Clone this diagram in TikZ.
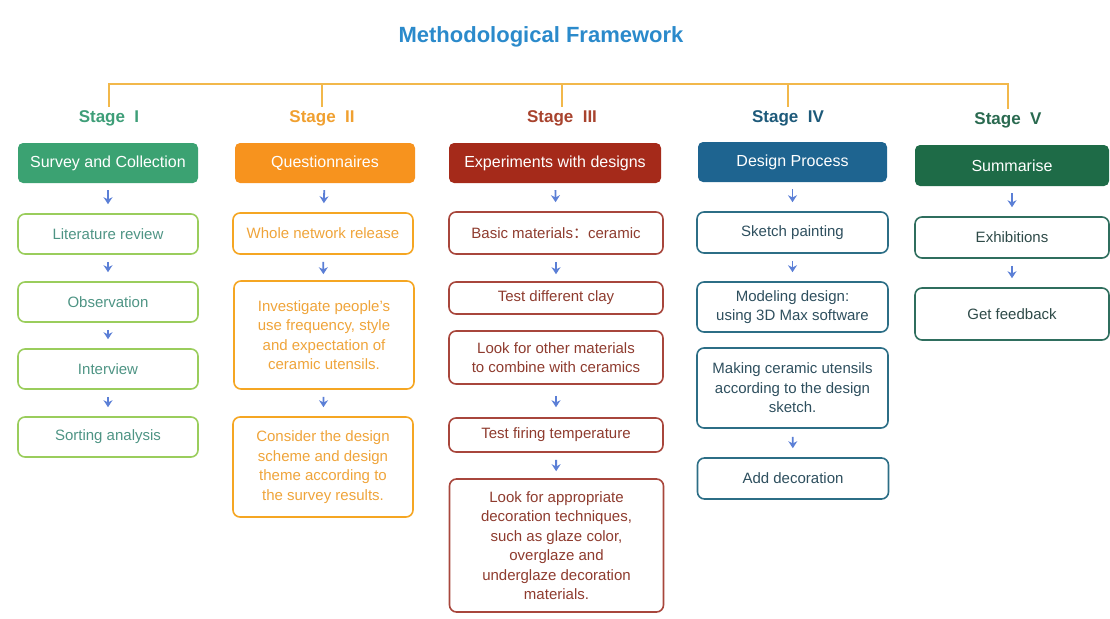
\documentclass[tikz,border=0pt]{standalone}
\usepackage{fontspec}
\setmainfont{Liberation Sans}
\newfontfamily\cjk{Noto Sans CJK SC}
\usetikzlibrary{arrows.meta}

\definecolor{titleblue}{HTML}{2B8ACB}
\definecolor{barorange}{HTML}{F2B84B}
\definecolor{arrowblue}{HTML}{5B7FD6}
\definecolor{onehead}{HTML}{3BA272}
\definecolor{onestage}{HTML}{3E9E78}
\definecolor{oneline}{HTML}{9ACD5C}
\definecolor{onetext}{HTML}{4E9484}
\definecolor{twohead}{HTML}{F7931E}
\definecolor{twostage}{HTML}{F0A030}
\definecolor{twoline}{HTML}{F5A623}
\definecolor{twotext}{HTML}{EFA43A}
\definecolor{threehead}{HTML}{A52A1A}
\definecolor{threestage}{HTML}{A8432E}
\definecolor{threeline}{HTML}{A8463C}
\definecolor{threetext}{HTML}{8E3B2E}
\definecolor{fourhead}{HTML}{1E6490}
\definecolor{fourstage}{HTML}{1E5A7A}
\definecolor{fourline}{HTML}{2C6E86}
\definecolor{fourtext}{HTML}{2E4F5E}
\definecolor{fivehead}{HTML}{1E6B47}
\definecolor{fivestage}{HTML}{2A6A50}
\definecolor{fiveline}{HTML}{2F6E5E}
\definecolor{fivetext}{HTML}{2E4A48}

\tikzset{
  head/.style={rounded corners=5pt, text=white, minimum height=40pt, inner sep=2pt,
    font=\fontsize{16}{19}\selectfont},
  box/.style={draw, rounded corners=7pt, line width=1.6pt, align=center, inner sep=2pt,
    font=\fontsize{15}{19.5}\selectfont},
  stage/.style={font=\bfseries\fontsize{17}{20}\selectfont},
  flow/.style={-{Stealth[length=7pt,width=9pt]}, line width=1.8pt, draw=arrowblue,
    shorten <=7pt, shorten >=9pt},
  bracket/.style={draw=barorange, line width=1.3pt},
  one/.style={box, draw=oneline, text=onetext, minimum width=180pt},
  two/.style={box, draw=twoline, text=twotext, minimum width=180pt},
  three/.style={box, draw=threeline, text=threetext, minimum width=214pt},
  four/.style={box, draw=fourline, text=fourtext, minimum width=191pt},
  five/.style={box, draw=fiveline, text=fivetext, minimum width=194pt},
}

\begin{document}
\begin{tikzpicture}[x=1pt, y=-1pt]
  \useasboundingbox (0,0) rectangle (1110,618);

  \node[font=\bfseries\fontsize{22}{26}\selectfont, text=titleblue] (title) at (541,37) {Methodological Framework};

  % stage titles and the bracket above them
  \coordinate (bar) at (0,84);
  \node[stage, text=onestage]   (s1) at (109,118)  {Stage\ \ I};
  \node[stage, text=twostage]   (s2) at (322,118)  {Stage\ \ II};
  \node[stage, text=threestage] (s3) at (562,118)  {Stage\ \ III};
  \node[stage, text=fourstage]  (s4) at (788,118)  {Stage\ \ IV};
  \node[stage, text=fivestage]  (s5) at (1008,120) {Stage\ \ V};
  \draw[bracket] (s1.north) -- (s1.north |- bar) -- (s5.north |- bar) -- (s5.north);
  \foreach \s in {s2,s3,s4}
    \draw[bracket] (\s.north) -- (\s.north |- bar);

  % Stage I
  \node[head, fill=onehead, minimum width=180pt] (h1) at (108,163) {Survey and Collection};
  \node[one, minimum height=40pt] (lit)  at (108,234) {Literature review};
  \node[one, minimum height=40pt] (obs)  at (108,302) {Observation};
  \node[one, minimum height=40pt] (intv) at (108,369) {Interview};
  \node[one, minimum height=40pt] (sort) at (108,437) {Sorting analysis};
  \draw[flow] (h1) -- (lit);
  \draw[flow] (lit) -- (obs);
  \draw[flow] (obs) -- (intv);
  \draw[flow] (intv) -- (sort);

  % Stage II
  \node[head, fill=twohead, minimum width=180pt] (h2) at (325,163) {Questionnaires};
  \node[two, minimum height=41pt]  (release) at (323,233.5) {Whole network release};
  \node[two, minimum height=108pt] (invest)  at (324,335) {Investigate people's\\use frequency, style\\and expectation of\\ceramic utensils.};
  \node[two, minimum height=100pt] (scheme)  at (323,467) {Consider the design\\scheme and design\\theme according to\\the survey results.};
  \draw[flow] (h2) -- (release);
  \draw[flow, shorten >=6pt] (release) -- (invest);
  \draw[flow] (invest) -- (scheme);

  % Stage III
  \node[head, fill=threehead, minimum width=212pt] (h3) at (555,163) {Experiments with designs};
  \node[three, minimum height=42pt]  (basic)   at (556,233) {Basic materials{\cjk ：}ceramic};
  \node[three, minimum height=32pt]  (clay)    at (556,298) {Test different clay};
  \node[three, minimum height=53pt]  (combine) at (556,357.5) {Look for other materials\\to combine with ceramics};
  \node[three, minimum height=34pt]  (firing)  at (556,435) {Test firing temperature};
  \node[three, minimum height=133pt] (glaze)   at (556.5,545.5) {Look for appropriate\\decoration techniques,\\such as glaze color,\\overglaze and\\underglaze decoration\\materials.};
  \draw[flow] (h3) -- (basic);
  \draw[flow, shorten >=7pt] (basic) -- (clay);
  \draw[flow, shorten <=11pt, shorten >=10pt] (combine) -- (firing);
  \draw[flow, shorten >=7pt] (firing) -- (glaze);

  % Stage IV
  \node[head, fill=fourhead, minimum width=189pt] (h4) at (792.5,162) {Design Process};
  \node[four, minimum height=41pt] (sketch) at (792.5,232.5) {Sketch painting};
  \node[four, minimum height=50pt] (model)  at (792.5,307) {Modeling design:\\using 3D Max software};
  \node[four, minimum height=80pt] (making) at (792.5,388) {Making ceramic utensils\\according to the design\\sketch.};
  \node[four, minimum height=41pt] (decor)  at (793,478.5) {Add decoration};
  \draw[flow] (h4) -- (sketch);
  \draw[flow] (sketch) -- (model);
  \draw[flow, shorten <=8pt] (making) -- (decor);

  % Stage V
  \node[head, fill=fivehead, minimum width=194pt, minimum height=41pt] (h5) at (1012,165.5) {Summarise};
  \node[five, minimum height=41pt] (exhib) at (1012,237.5) {Exhibitions};
  \node[five, minimum height=52pt] (feed)  at (1012,314) {Get feedback};
  \draw[flow] (h5) -- (exhib);
  \draw[flow] (exhib) -- (feed);
\end{tikzpicture}
\end{document}
